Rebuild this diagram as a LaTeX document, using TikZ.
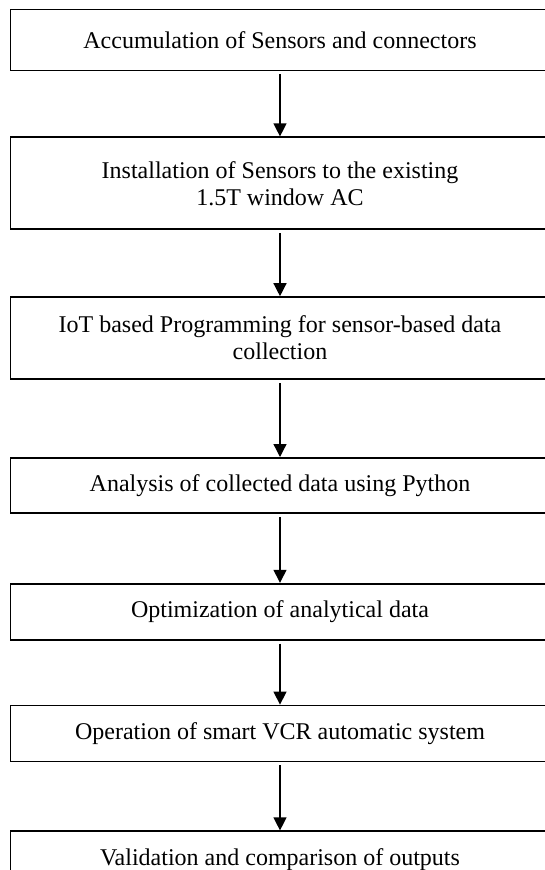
\documentclass[tikz,border=0pt]{standalone}
\usepackage{fontspec}
\setmainfont{Liberation Serif}
\usetikzlibrary{arrows.meta,positioning}

\begin{document}
\begin{tikzpicture}[->,>={Triangle[length=13pt,width=13pt]},shorten <=3pt,
                    line width=1.3pt,x=1pt,y=1pt]
  \tikzstyle{stage}=[draw,line width=1.8pt,minimum width=539pt,inner sep=0pt,
                     align=center,font=\fontsize{24}{27}\selectfont]
  \useasboundingbox (0,0) rectangle (545,-870);

  \node[stage,minimum height=61pt] (collect) at (280,-40)
        {Accumulation of Sensors and connectors};
  \node[stage,minimum height=92pt] (install) [below=65pt of collect]
        {Installation of Sensors to the existing\\1.5T window AC};
  \node[stage,minimum height=82pt] (program) [below=66pt of install]
        {IoT based Programming for sensor-based data\\collection};
  \node[stage,minimum height=55pt] (analyse) [below=77pt of program]
        {Analysis of collected data using Python};
  \node[stage,minimum height=56pt] (optimise) [below=69pt of analyse]
        {Optimization of analytical data};
  \node[stage,minimum height=56pt] (operate) [below=64pt of optimise]
        {Operation of smart VCR automatic system};
  \node[stage,minimum height=56pt] (validate) [below=68pt of operate]
        {Validation and comparison of outputs};

  \path (collect)  edge (install)
        (install)  edge (program)
        (program)  edge (analyse)
        (analyse)  edge (optimise)
        (optimise) edge (operate)
        (operate)  edge (validate);
\end{tikzpicture}
\end{document}
